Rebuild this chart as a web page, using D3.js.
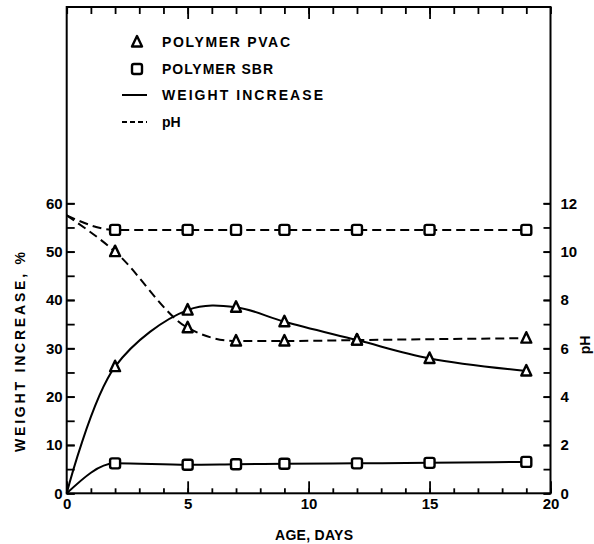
<!DOCTYPE html>
<html>
<head>
<meta charset="utf-8">
<script src="https://cdn.jsdelivr.net/npm/d3@7"></script>
<style>
  html, body { margin: 0; padding: 0; background: #fff; }
  svg { display: block; }
  text { font-family: "Liberation Sans", Arial, sans-serif; font-weight: bold; fill: #000; }
</style>
</head>
<body>
<svg id="chart" width="594" height="544"></svg>
<script>
// Sampling ages (days) and measured values
const days = [2, 5, 7, 9, 12, 15, 19];
const pvacWeight = [26.2, 37.9, 38.5, 35.5, 31.7, 27.9, 25.3];
const sbrWeight = [6.2, 5.9, 6.0, 6.1, 6.2, 6.3, 6.5];
const pvacPhDays = [2, 5, 7, 9, 12, 19];
const pvacPh = [10.0, 6.85, 6.3, 6.3, 6.34, 6.42];
const sbrPh = [10.9, 10.9, 10.9, 10.9, 10.9, 10.9, 10.9];
// Values at age 0 (curves start here, no marker)
const startWeight = 0;
const startPh = 11.5;

// Axis ticks
const xLabelTicks = [0, 5, 10, 15, 20];
const weightLabelTicks = [0, 10, 20, 30, 40, 50, 60];
const phLabelTicks = [0, 2, 4, 6, 8, 10, 12];

const svg = d3.select("#chart");
const plotLeft = 66.7, plotRight = 550.5, plotBottom = 493.3, plotTop = 7;

const x = d3.scaleLinear().domain([0, 20]).range([plotLeft, plotRight]);
const yW = d3.scaleLinear().domain([0, 60]).range([plotBottom, 203.3]);
const yP = d3.scaleLinear().domain([0, 12]).range([plotBottom, 203.3]);

// Frame
svg.append("rect")
  .attr("x", plotLeft).attr("y", plotTop)
  .attr("width", plotRight - plotLeft).attr("height", plotBottom - plotTop)
  .attr("fill", "none").attr("stroke", "#000").attr("stroke-width", 2);

function styleAxis(g) {
  g.select(".domain").remove();
  g.selectAll(".tick line").attr("stroke", "#000").attr("stroke-width", 1.8);
  g.selectAll(".tick text").attr("font-size", 15).attr("fill", "#000")
    .attr("font-family", "Liberation Sans, Arial, sans-serif").attr("font-weight", "bold");
}

// Bottom axis: minor ticks every day, major every 5 with labels
svg.append("g").attr("transform", `translate(0,${plotBottom})`)
  .call(d3.axisBottom(x).tickValues(d3.range(0, 21)).tickSize(-5).tickFormat(""))
  .call(styleAxis);
svg.append("g").attr("transform", `translate(0,${plotBottom})`)
  .call(d3.axisBottom(x).tickValues(xLabelTicks).tickSize(-12).tickPadding(5).tickFormat(d3.format("d")))
  .call(styleAxis);

// Top axis ticks
svg.append("g").attr("transform", `translate(0,${plotTop})`)
  .call(d3.axisTop(x).tickValues(d3.range(0, 21)).tickSize(-7).tickFormat(""))
  .call(styleAxis);
svg.append("g").attr("transform", `translate(0,${plotTop})`)
  .call(d3.axisTop(x).tickValues([5, 10, 15]).tickSize(-12).tickFormat(""))
  .call(styleAxis);

// Left axis: weight increase
svg.append("g").attr("transform", `translate(${plotLeft},0)`)
  .call(d3.axisLeft(yW).tickValues(d3.range(0, 61, 5)).tickSize(-8).tickFormat(""))
  .call(styleAxis);
svg.append("g").attr("transform", `translate(${plotLeft},0)`)
  .call(d3.axisLeft(yW).tickValues(weightLabelTicks).tickSize(-8).tickPadding(4).tickFormat(d3.format("d")))
  .call(styleAxis);

// Right axis: pH
svg.append("g").attr("transform", `translate(${plotRight},0)`)
  .call(d3.axisRight(yP).tickValues(d3.range(0, 13)).tickSize(-7).tickFormat(""))
  .call(styleAxis);
svg.append("g").attr("transform", `translate(${plotRight},0)`)
  .call(d3.axisRight(yP).tickValues(phLabelTicks).tickSize(-7).tickPadding(10).tickFormat(d3.format("d")))
  .call(styleAxis);

// Axis titles
svg.append("text")
  .attr("transform", "translate(25,352) rotate(-90)")
  .attr("text-anchor", "middle").attr("font-size", 14)
  .attr("textLength", 200).attr("lengthAdjust", "spacing")
  .text("WEIGHT  INCREASE,  %");
svg.append("text")
  .attr("x", 314).attr("y", 540)
  .attr("text-anchor", "middle").attr("font-size", 14)
  .attr("textLength", 78).attr("lengthAdjust", "spacing")
  .text("AGE, DAYS");
svg.append("text")
  .attr("transform", "translate(590,345) rotate(-90)")
  .attr("text-anchor", "middle").attr("font-size", 14)
  .text("pH");

// Curves: PVAC weight rises to a rounded peak; the others level off without overshoot
const line = (ys, curve) => d3.line()
  .x(d => x(d[0])).y(d => ys(d[1]))
  .curve(curve);

const pvacWeightPts = [[0, startWeight], ...days.map((d, i) => [d, pvacWeight[i]])];
const sbrWeightPts = [[0, startWeight], ...days.map((d, i) => [d, sbrWeight[i]])];
const pvacPhPts = [[0, startPh], ...pvacPhDays.map((d, i) => [d, pvacPh[i]])];
const sbrPhPts = [[0, startPh], ...days.map((d, i) => [d, sbrPh[i]])];

const curves = svg.append("g").attr("fill", "none").attr("stroke", "#000").attr("stroke-width", 2);
curves.append("path").attr("d", line(yW, d3.curveCatmullRom.alpha(0.5))(pvacWeightPts));
curves.append("path").attr("d", line(yW, d3.curveMonotoneX)(sbrWeightPts));
curves.append("path").attr("d", line(yP, d3.curveMonotoneX)(pvacPhPts)).attr("stroke-dasharray", "9,5");
curves.append("path").attr("d", line(yP, d3.curveMonotoneX)(sbrPhPts)).attr("stroke-dasharray", "9,5");

// Marker shapes
function triangle(g, cx, cy) {
  g.append("path")
    .attr("d", `M${cx},${cy - 6} L${cx + 5},${cy + 4.5} L${cx - 5},${cy + 4.5} Z`)
    .attr("fill", "#fff").attr("stroke", "#000").attr("stroke-width", 2.4)
    .attr("stroke-linejoin", "round");
}
function square(g, cx, cy) {
  g.append("rect")
    .attr("x", cx - 5).attr("y", cy - 5).attr("width", 10).attr("height", 10)
    .attr("rx", 2)
    .attr("fill", "#fff").attr("stroke", "#000").attr("stroke-width", 2.4);
}

const marks = svg.append("g");
days.forEach((d, i) => triangle(marks, x(d), yW(pvacWeight[i])));
days.forEach((d, i) => square(marks, x(d), yW(sbrWeight[i])));
pvacPhDays.forEach((d, i) => triangle(marks, x(d), yP(pvacPh[i])));
days.forEach((d, i) => square(marks, x(d), yP(sbrPh[i])));

// Legend
const lg = svg.append("g");
const lx = 137, tx = 162;
triangle(lg, lx, 42);
lg.append("text").attr("x", tx).attr("y", 47).attr("font-size", 14)
  .attr("textLength", 128).attr("lengthAdjust", "spacing").text("POLYMER  PVAC");
square(lg, lx, 69);
lg.append("text").attr("x", tx).attr("y", 74).attr("font-size", 14)
  .attr("textLength", 111).attr("lengthAdjust", "spacing").text("POLYMER  SBR");
lg.append("line").attr("x1", 122).attr("x2", 147).attr("y1", 95).attr("y2", 95)
  .attr("stroke", "#000").attr("stroke-width", 2);
lg.append("text").attr("x", tx).attr("y", 100).attr("font-size", 14)
  .attr("textLength", 161).attr("lengthAdjust", "spacing").text("WEIGHT  INCREASE");
lg.append("line").attr("x1", 122).attr("x2", 147).attr("y1", 122).attr("y2", 122)
  .attr("stroke", "#000").attr("stroke-width", 2).attr("stroke-dasharray", "5,3");
lg.append("text").attr("x", tx).attr("y", 127).attr("font-size", 14).text("pH");
</script>
</body>
</html>
